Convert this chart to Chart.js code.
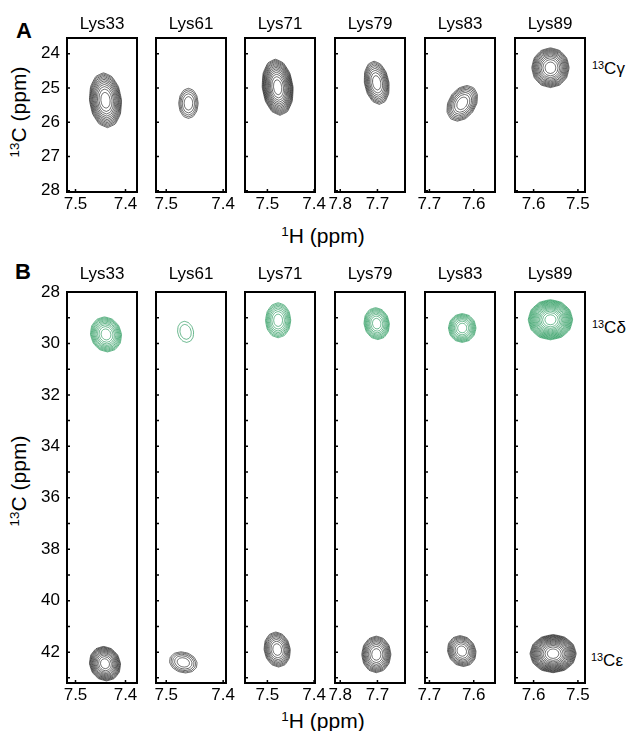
<!DOCTYPE html>
<html>
<head>
<meta charset="utf-8">
<script src="https://cdn.jsdelivr.net/npm/chart.js@4.4.0/dist/chart.umd.min.js"></script>
<style>
  body { margin: 0; background: #fff; }
  #fig { position: relative; width: 633px; height: 731px; font-family: "Liberation Sans", Arial, sans-serif; color: #000; }
  #fig canvas { position: absolute; }
  .lbl { position: absolute; white-space: nowrap; line-height: 1; }
  .sup { font-size: 0.64em; position: relative; top: -0.5em; }
  .ytitle { font-size: 21px; transform: translate(-50%, -50%) rotate(-90deg); }
  .xtitle { font-size: 21px; transform: translateX(-50%); }
  .atom { font-size: 17px; }
</style>
</head>
<body>
<div id="fig">
  <div class="lbl" style="left:16px;top:20px;font-size:22px;font-weight:bold">A</div>
  <div class="lbl" style="left:15px;top:261px;font-size:22px;font-weight:bold">B</div>

  <div class="lbl ytitle" style="left:18px;top:112px"><span class="sup">13</span>C (ppm)</div>
  <div class="lbl ytitle" style="left:18px;top:481px"><span class="sup">13</span>C (ppm)</div>

  <div class="lbl xtitle" style="left:323px;top:225px"><span class="sup">1</span>H (ppm)</div>
  <div class="lbl xtitle" style="left:323px;top:710px"><span class="sup">1</span>H (ppm)</div>

  <div class="lbl atom" style="left:592px;top:60px"><span class="sup">13</span>Cγ</div>
  <div class="lbl atom" style="left:592px;top:319px"><span class="sup">13</span>Cδ</div>
  <div class="lbl atom" style="left:591px;top:652px"><span class="sup">13</span>Cε</div>
</div>

<script>
// residues shown in each column
const residues = ['Lys33', 'Lys61', 'Lys71', 'Lys79', 'Lys83', 'Lys89'];

// 1H window of each column (left edge, right edge), ppm
const hLeft  = [7.517, 7.518, 7.548, 7.814, 7.710, 7.642];
const hRight = [7.377, 7.395, 7.398, 7.626, 7.552, 7.484];
const hTicks = [[7.5, 7.4], [7.5, 7.4], [7.5, 7.4], [7.8, 7.7], [7.7, 7.6], [7.6, 7.5]];

// 13C windows
const cRangeA  = [23.54, 28.04];
const cLabelsA = [24, 25, 26, 27, 28];
const cMarksA  = [24, 25, 26, 27, 28];
const cRangeB  = [28.0, 43.2];
const cLabelsB = [28, 30, 32, 34, 36, 38, 40, 42];
const cMarksB  = [29, 30, 31, 32, 33, 34, 35, 36, 37, 38, 39, 40, 41, 42, 43];

// Cγ peaks (panel A): centre, half widths, number of contour levels, lean of the top
const gammaH      = [7.440, 7.461, 7.478, 7.702, 7.626, 7.562];
const gammaC      = [25.36, 25.45, 24.98, 24.85, 25.45, 24.41];
const gammaWidthH = [0.032, 0.017, 0.033, 0.033, 0.033, 0.042];
const gammaWidthC = [0.80, 0.44, 0.82, 0.63, 0.52, 0.58];
const gammaLevels = [12, 5, 14, 9, 8, 12];
const gammaLean   = [0.004, 0.000, 0.005, 0.007, -0.011, 0.000];

// Cδ peaks (panel B, green)
const deltaH      = [7.439, 7.466, 7.477, 7.702, 7.626, 7.562];
const deltaC      = [29.65, 29.55, 29.10, 29.23, 29.40, 29.08];
const deltaWidthH = [0.031, 0.014, 0.027, 0.034, 0.031, 0.050];
const deltaWidthC = [0.68, 0.41, 0.68, 0.62, 0.56, 0.78];
const deltaLevels = [10, 2, 8, 9, 9, 16];
const deltaLean   = [0.003, 0.002, 0.000, 0.003, 0.000, 0.000];

// Cε peaks (panel B, black)
const epsH      = [7.441, 7.470, 7.479, 7.703, 7.627, 7.556];
const epsC      = [42.45, 42.40, 41.90, 42.09, 41.96, 42.06];
const epsWidthH = [0.031, 0.024, 0.028, 0.039, 0.032, 0.052];
const epsWidthC = [0.67, 0.41, 0.68, 0.71, 0.60, 0.74];
const epsLevels = [12, 5, 9, 10, 9, 16];
const epsLean   = [0.003, 0.004, 0.003, 0.000, 0.004, 0.000];

const BLACK = 'rgba(15,15,15,0.85)';
const GREEN = 'rgba(25,145,80,0.88)';
const FONT = '"Liberation Sans", Arial, sans-serif';

// frame placement on the page
const colLeft = [67, 156, 245, 335, 425, 515];
const frameW = 70;

// contour loops of a peak: levels spaced geometrically, so the rim is dense;
// a coarse polygon, like contours traced on a coarse spectral grid
function contourRings(h0, c0, wh, wc, n, lean) {
    const rings = [];
    const sides = 12;
    for (let k = 0; k < n; k++) {
        const f = Math.sqrt(1 - k / n);
        const pts = [];
        for (let j = 0; j <= sides; j++) {
            const t = Math.PI / 2 + 2 * Math.PI * j / sides;
            const s = Math.sin(t);
            pts.push({ x: h0 + f * (wh * Math.cos(t) - lean * s), y: c0 + wc * f * s });
        }
        rings.push(pts);
    }
    return rings;
}

function ringDatasets(rings, color) {
    return rings.map(pts => ({
        data: pts,
        showLine: true,
        pointRadius: 0,
        borderColor: color,
        borderWidth: 0.75,
        borderJoinStyle: 'round',
        tension: 0.12   // non-zero also keeps Chart.js off its x-sorted fast path
    }));
}

// box round the plot with small inward ticks
const framePlugin = {
    id: 'frame',
    afterDatasetsDraw(chart, args, opts) {
        const { ctx, chartArea: a, scales } = chart;
        ctx.save();
        ctx.strokeStyle = '#000';
        ctx.lineWidth = 1.5;
        ctx.beginPath();
        opts.yMarks.forEach(v => {
            const py = scales.y.getPixelForValue(v);
            ctx.moveTo(a.left, py);
            ctx.lineTo(a.left + 3, py);
        });
        opts.xMarks.forEach(v => {
            const px = scales.x.getPixelForValue(v);
            ctx.moveTo(px, a.bottom);
            ctx.lineTo(px, a.bottom - 3);
        });
        ctx.stroke();
        ctx.lineWidth = 2;
        ctx.strokeRect(a.left, a.top, a.width, a.height);
        ctx.restore();
    }
};

function makePanel(rowDef, col) {
    const first = col === 0;
    const yW = first ? 44 : 0;
    const padL = first ? 2 : 16;
    const padR = 16;
    const titleH = 20 + rowDef.titleGap;   // 17px font * 1.2 line height
    const xH = 24;

    const canvas = document.createElement('canvas');
    const w = padL + yW + frameW + padR;
    const h = titleH + rowDef.height + xH + 2;
    canvas.width = w;
    canvas.height = h;
    canvas.style.width = w + 'px';
    canvas.style.height = h + 'px';
    canvas.style.left = (colLeft[col] - padL - yW) + 'px';
    canvas.style.top = (rowDef.top - titleH) + 'px';
    document.getElementById('fig').appendChild(canvas);

    new Chart(canvas.getContext('2d'), {
        type: 'scatter',
        data: { datasets: rowDef.datasets(col) },
        options: {
            responsive: false,
            animation: false,
            events: [],
            layout: { padding: { left: padL, right: padR, top: 0, bottom: 2 } },
            plugins: {
                legend: { display: false },
                tooltip: { enabled: false },
                title: {
                    display: true,
                    fullSize: false,
                    text: residues[col],
                    color: '#000',
                    font: { family: FONT, size: 17, weight: 'normal', lineHeight: 20 / 17 },
                    padding: { top: 0, bottom: rowDef.titleGap }
                },
                frame: { yMarks: rowDef.marks, xMarks: hTicks[col] }
            },
            scales: {
                x: {
                    type: 'linear',
                    reverse: true,
                    min: hRight[col],
                    max: hLeft[col],
                    grid: { display: false, drawTicks: false },
                    border: { display: false },
                    afterBuildTicks: s => { s.ticks = hTicks[col].map(v => ({ value: v })); },
                    afterFit: s => { s.height = xH; },
                    ticks: {
                        color: '#000',
                        padding: 2,
                        autoSkip: false,
                        maxRotation: 0,
                        font: { family: FONT, size: 17 },
                        callback: v => v.toFixed(1)
                    }
                },
                y: {
                    type: 'linear',
                    reverse: true,
                    display: first,
                    min: rowDef.range[0],
                    max: rowDef.range[1],
                    grid: { display: false, drawTicks: false },
                    border: { display: false },
                    afterBuildTicks: s => { s.ticks = rowDef.labels.map(v => ({ value: v })); },
                    afterFit: s => { s.width = yW; },
                    ticks: {
                        color: '#000',
                        padding: 7,
                        autoSkip: false,
                        font: { family: FONT, size: 17 },
                        callback: v => String(v)
                    }
                }
            }
        },
        plugins: [framePlugin]
    });
}

const rowA = {
    top: 38, height: 154, titleGap: 4,
    range: cRangeA, labels: cLabelsA, marks: cMarksA,
    datasets: i => ringDatasets(
        contourRings(gammaH[i], gammaC[i], gammaWidthH[i], gammaWidthC[i], gammaLevels[i], gammaLean[i]), BLACK)
};

const rowB = {
    top: 292, height: 391, titleGap: 8,
    range: cRangeB, labels: cLabelsB, marks: cMarksB,
    datasets: i => ringDatasets(
        contourRings(deltaH[i], deltaC[i], deltaWidthH[i], deltaWidthC[i], deltaLevels[i], deltaLean[i]), GREEN)
        .concat(ringDatasets(
        contourRings(epsH[i], epsC[i], epsWidthH[i], epsWidthC[i], epsLevels[i], epsLean[i]), BLACK))
};

for (let i = 0; i < residues.length; i++) {
    makePanel(rowA, i);
    makePanel(rowB, i);
}
</script>
</body>
</html>
